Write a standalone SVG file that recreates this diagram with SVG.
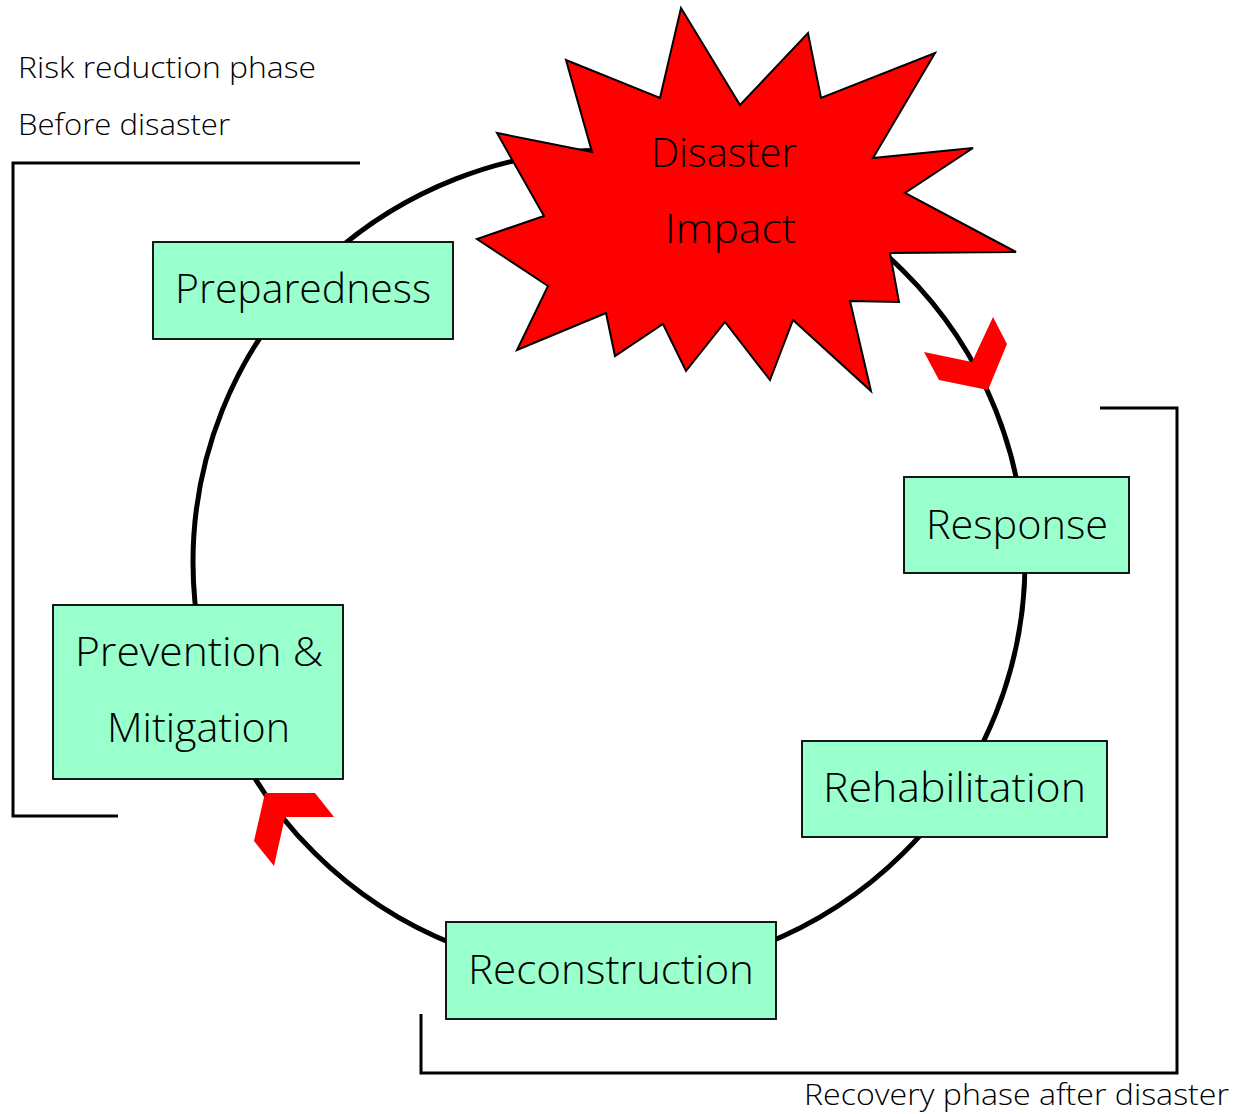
<svg xmlns="http://www.w3.org/2000/svg" width="1233" height="1114" viewBox="0 0 1233 1114">
<style>
.box{fill:#99FFCC;stroke:#000;stroke-width:1.8}
.lbl{font-family:"Open Sans","Noto Sans","Liberation Sans",sans-serif;font-weight:300;font-size:40px;fill:#000;text-anchor:start}
.sm{font-family:"Open Sans","Noto Sans","Liberation Sans",sans-serif;font-weight:300;font-size:30px;fill:#000}
.br{fill:none;stroke:#000;stroke-width:3}
.chev{fill:#FF0000;stroke:none}
</style>
<rect width="1233" height="1114" fill="#fff"/>
<g id="connectors">
<ellipse cx="609" cy="562" rx="416" ry="412" fill="none" stroke="#000" stroke-width="5"/>
<polygon class="chev" points="924,352 972,362 993,317 1007,344 988,390 939,380"/>
<polygon class="chev" points="265,793 315,793 334,817 285,817 274,866 254,841"/>
</g>
<g id="brackets">
<polyline class="br" points="360,163 13,163 13,816 118,816"/>
<polyline class="br" points="1100,408 1177,408 1177,1073 421,1073 421,1014"/>
</g>
<g id="disaster">
<polygon fill="#FF0000" stroke="#000" stroke-width="2" points="681,8 740,105 808,33 821,98 935,53 873,158 973,148 905,193 1016,252 890,253 899,302 850,301 871,391 793,320 770,380 725,322 686,371 663,324 615,356 606,313 517,350 548,286 477,239 544,216 497,133 592,152 566,60 660,98"/>
<text class="lbl" x="651" y="167" textLength="146" lengthAdjust="spacingAndGlyphs">Disaster</text>
<text class="lbl" x="665" y="243" textLength="131" lengthAdjust="spacingAndGlyphs">Impact</text>
</g>
<g id="preparedness">
<rect class="box" x="153" y="242" width="300" height="97"/>
<text class="lbl" x="175" y="303" textLength="256" lengthAdjust="spacingAndGlyphs">Preparedness</text>
</g>
<g id="response">
<rect class="box" x="904" y="477" width="225" height="96"/>
<text class="lbl" x="926" y="539" textLength="182" lengthAdjust="spacingAndGlyphs">Response</text>
</g>
<g id="prevention">
<rect class="box" x="53" y="605" width="290" height="174"/>
<text class="lbl" x="75" y="666" textLength="248" lengthAdjust="spacingAndGlyphs">Prevention &amp;</text>
<text class="lbl" x="107" y="742" textLength="183" lengthAdjust="spacingAndGlyphs">Mitigation</text>
</g>
<g id="rehabilitation">
<rect class="box" x="802" y="741" width="305" height="96"/>
<text class="lbl" x="823" y="802" textLength="263" lengthAdjust="spacingAndGlyphs">Rehabilitation</text>
</g>
<g id="reconstruction">
<rect class="box" x="446" y="922" width="330" height="97"/>
<text class="lbl" x="468" y="984" textLength="286" lengthAdjust="spacingAndGlyphs">Reconstruction</text>
</g>
<g id="labels">
<text class="sm" x="18" y="78" textLength="298" lengthAdjust="spacingAndGlyphs">Risk reduction phase</text>
<text class="sm" x="18" y="135" textLength="212" lengthAdjust="spacingAndGlyphs">Before disaster</text>
<text class="sm" x="804" y="1105" textLength="425" lengthAdjust="spacingAndGlyphs">Recovery phase after disaster</text>
</g>
</svg>
